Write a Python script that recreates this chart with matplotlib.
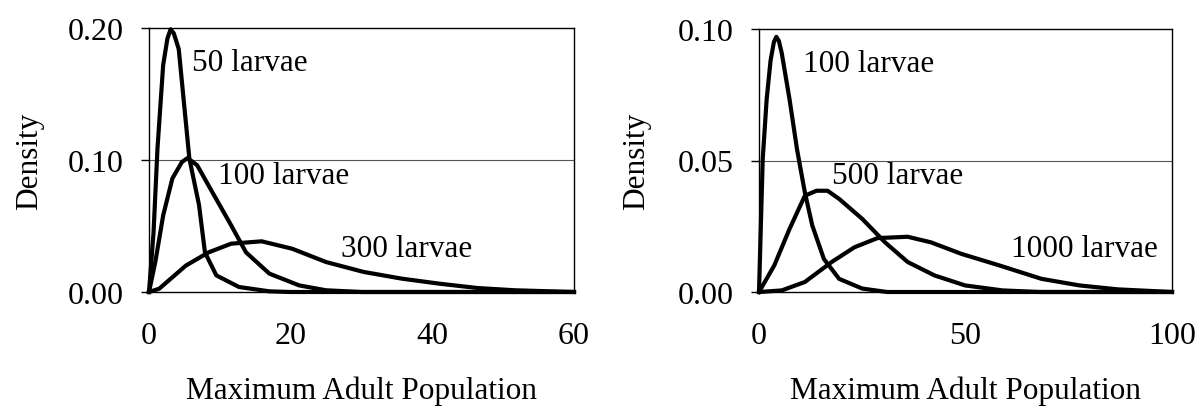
import matplotlib
matplotlib.use('Agg')
import matplotlib.pyplot as plt

plt.rcParams['font.family'] = ['Liberation Serif', 'DejaVu Serif']

# density curves, left panel (x = max adult population)
x50 = [0, 0.64, 1.2, 2.0, 2.6, 3.05, 3.5, 4.2, 5.7, 7.06, 7.9, 9.5, 12.7, 17, 20, 60]
y50 = [0, 0.045, 0.109, 0.172, 0.192, 0.199, 0.196, 0.184, 0.101, 0.066, 0.030, 0.0126, 0.0038, 0.0005, 0, 0]

x100 = [0, 0.9, 2.0, 3.3, 4.65, 5.45, 6.8, 8.9, 11.6, 13.7, 17, 21.2, 25, 30, 60]
y100 = [0, 0.023, 0.058, 0.086, 0.0985, 0.1015, 0.096, 0.076, 0.0505, 0.030, 0.0139, 0.005, 0.0013, 0, 0]

x300 = [0, 1.44, 5.2, 8.4, 11.6, 15.9, 20.2, 25, 30.3, 35.7, 41, 46.4, 51.7, 60]
y300 = [0, 0.0025, 0.020, 0.030, 0.0366, 0.0384, 0.0328, 0.0227, 0.0152, 0.0101, 0.0063, 0.003, 0.0013, 0]

# right panel
r100_x = [0, 0.9, 1.85, 2.8, 3.6, 4.2, 4.8, 5.5, 7.4, 9.2, 11.1, 12.9, 15.7, 19.4, 25, 31, 100]
r100_y = [0, 0.0505, 0.0732, 0.088, 0.095, 0.097, 0.0955, 0.0909, 0.0732, 0.0543, 0.0379, 0.0253, 0.0126, 0.005, 0.0013, 0, 0]

r500_x = [0, 3.7, 7.4, 11.1, 13.9, 16.6, 19.4, 25, 30.5, 36, 42.5, 49.9, 59, 68, 100]
r500_y = [0, 0.0101, 0.024, 0.0366, 0.0385, 0.0385, 0.0354, 0.0278, 0.0189, 0.0114, 0.0063, 0.0025, 0.0006, 0, 0]

r1000_x = [0, 5.5, 11.1, 17.6, 23.1, 28.7, 36, 41.6, 49, 58.2, 68.4, 77.6, 86.9, 100]
r1000_y = [0, 0.0006, 0.0038, 0.0114, 0.017, 0.0205, 0.021, 0.0189, 0.0145, 0.0101, 0.005, 0.0025, 0.001, 0]

left_labels = [('50 larvae', 6.1, 0.174), ('100 larvae', 9.7, 0.088), ('300 larvae', 27.1, 0.033)]
right_labels = [('100 larvae', 10.6, 0.087), ('500 larvae', 17.6, 0.0442), ('1000 larvae', 61, 0.0164)]

fig = plt.figure(figsize=(12.02, 4.10), dpi=100)
ax1 = fig.add_axes([149 / 1202, 117 / 410, 425 / 1202, 264 / 410])
ax2 = fig.add_axes([759 / 1202, 117 / 410, 413 / 1202, 263 / 410])


def style(ax, xmax, ymax, xticks, yticks, yfmt, ylabelpad):
    ax.set_xlim(0, xmax)
    ax.set_ylim(0, ymax)
    ax.set_xticks(xticks)
    ax.set_yticks(yticks)
    ax.set_yticklabels([yfmt % v for v in yticks])
    ax.tick_params(axis='x', length=0, pad=21, labelsize=23)
    ax.tick_params(axis='y', length=6, width=1, direction='out', pad=12, labelsize=23)
    for s in ax.spines.values():
        s.set_linewidth(1.0)
    ax.axhline(yticks[1], color='#555555', lw=0.8, zorder=0)
    ax.set_xlabel('Maximum Adult Population', fontsize=22.5, labelpad=18)
    ax.set_ylabel('Density', fontsize=22.5, labelpad=ylabelpad)


for xs, ys in [(x50, y50), (x100, y100), (x300, y300)]:
    ax1.plot(xs, ys, color='black', lw=3.0, clip_on=False, solid_joinstyle='round')
for xs, ys in [(r100_x, r100_y), (r500_x, r500_y), (r1000_x, r1000_y)]:
    ax2.plot(xs, ys, color='black', lw=3.0, clip_on=False, solid_joinstyle='round')

style(ax1, 60, 0.20, [0, 20, 40, 60], [0.0, 0.10, 0.20], '%.2f', 17)
style(ax2, 100, 0.10, [0, 50, 100], [0.0, 0.05, 0.10], '%.2f', 19)

for ax, labels in [(ax1, left_labels), (ax2, right_labels)]:
    for txt, x, y in labels:
        ax.text(x, y, txt, fontsize=22.5, ha='left', va='center')

fig.savefig('out.png', dpi=100)
